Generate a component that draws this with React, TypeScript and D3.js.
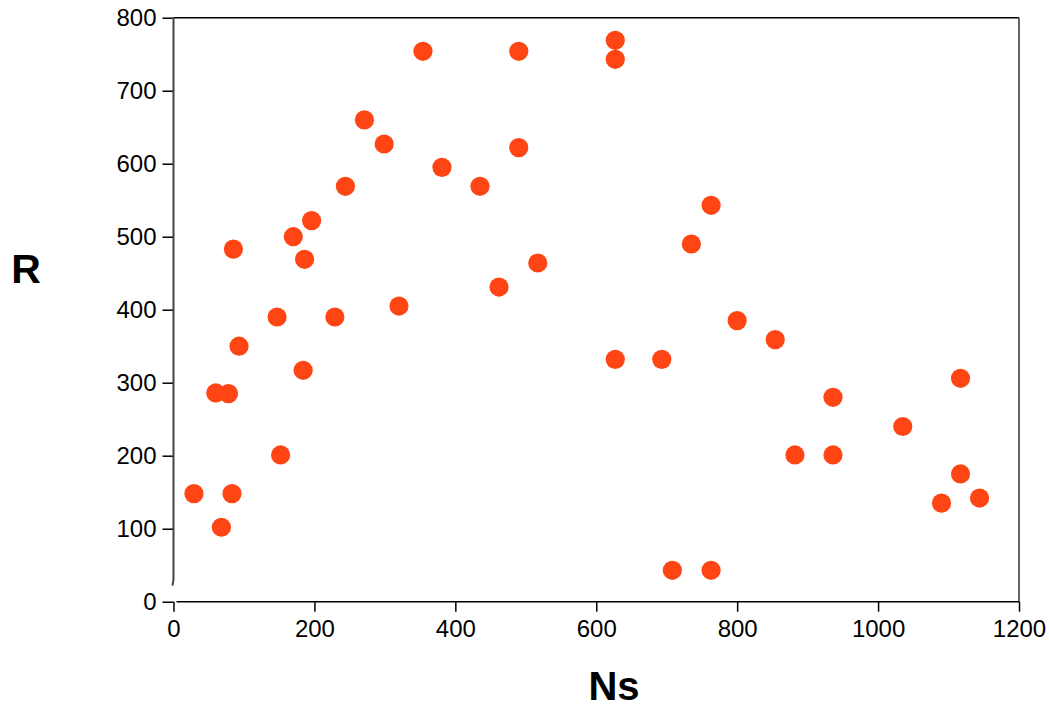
import React, { useEffect, useRef } from "react";
import * as d3 from "d3";

// Ns values (x) and R values (y)
const nsValues = [
  29, 68, 60, 78, 83, 85, 93, 147, 152, 170, 184, 186, 196, 229, 244, 271, 299,
  320, 354, 381, 435, 462, 490, 490, 517, 627, 627, 627, 693, 708, 735, 763, 763,
  800, 854, 882, 936, 936, 1035, 1090, 1117, 1117, 1144,
];
const rValues = [
  148, 102, 286, 285, 148, 483, 350, 390, 201, 500, 317, 469, 522, 390, 569, 660,
  627, 405, 754, 595, 569, 431, 622, 754, 464, 769, 743, 332, 332, 43, 490, 543,
  43, 385, 359, 201, 280, 201, 240, 135, 175, 306, 142,
];
const xTicks = [0, 200, 400, 600, 800, 1000, 1200];
const yTicks = [0, 100, 200, 300, 400, 500, 600, 700, 800];

const App = () => {
  const svgRef = useRef<SVGSVGElement>(null);

  useEffect(() => {
    const svg = d3.select(svgRef.current);
    svg.selectAll("*").remove();

    const width = 1049;
    const height = 708;
    const margin = { left: 173.5, right: 30, top: 17.7, bottom: 106.3 };
    const x0 = margin.left;
    const x1 = width - margin.right;
    const y0 = height - margin.bottom;
    const y1 = margin.top;

    const x = d3.scaleLinear().domain([0, 1200]).range([x0, x1]);
    const y = d3.scaleLinear().domain([0, 800]).range([y0, y1]);

    const font = "'Liberation Sans', Arial, sans-serif";

    // frame: top and right lines
    svg.append("line").attr("x1", x0).attr("x2", x1).attr("y1", y1).attr("y2", y1)
      .attr("stroke", "#000").attr("stroke-width", 1.5);
    svg.append("line").attr("x1", x1).attr("x2", x1).attr("y1", y1).attr("y2", y0)
      .attr("stroke", "#555").attr("stroke-width", 1.8);

    // x axis
    const gx = svg.append("g").attr("transform", `translate(0,${y0})`)
      .call(d3.axisBottom(x).tickValues(xTicks).tickSize(10).tickPadding(8).tickFormat(d3.format("d")));
    gx.select(".domain").remove();
    gx.selectAll(".tick line").attr("stroke", "#000").attr("stroke-width", 1.5);
    gx.selectAll(".tick text").attr("font-family", font).attr("font-size", 24).attr("fill", "#000");
    svg.append("line").attr("x1", x0 + 3).attr("x2", x1).attr("y1", y0).attr("y2", y0)
      .attr("stroke", "#000").attr("stroke-width", 1.5);

    // y axis
    const gy = svg.append("g").attr("transform", `translate(${x0},0)`)
      .call(d3.axisLeft(y).tickValues(yTicks).tickSize(11).tickPadding(6).tickFormat(d3.format("d")));
    gy.select(".domain").remove();
    gy.selectAll(".tick line").attr("stroke", "#000").attr("stroke-width", 1.5);
    gy.selectAll(".tick text").attr("font-family", font).attr("font-size", 24).attr("fill", "#000");
    // y axis line with a small break near the origin
    svg.append("path")
      .attr("d", `M${x0},${y1} L${x0},${y0 - 22} L${x0 - 1},${y0 - 16}`)
      .attr("fill", "none").attr("stroke", "#444").attr("stroke-width", 2);

    // points
    svg.append("g")
      .selectAll("circle")
      .data(nsValues.map((n, i) => ({ n, r: rValues[i] })))
      .join("circle")
      .attr("cx", (d) => x(d.n))
      .attr("cy", (d) => y(d.r))
      .attr("r", 9.6)
      .attr("fill", "#ff4513");

    // axis titles
    svg.append("text").attr("x", 26).attr("y", 283).attr("text-anchor", "middle")
      .attr("font-family", font).attr("font-size", 41).attr("font-weight", "bold").text("R");
    svg.append("text").attr("x", 614).attr("y", 700).attr("text-anchor", "middle")
      .attr("font-family", font).attr("font-size", 40).attr("font-weight", "bold").text("Ns");
  }, []);

  return (
    <svg
      ref={svgRef}
      width={1049}
      height={708}
      style={{ position: "absolute", left: 0, top: 0, background: "#fff" }}
    ></svg>
  );
};

export default App;
